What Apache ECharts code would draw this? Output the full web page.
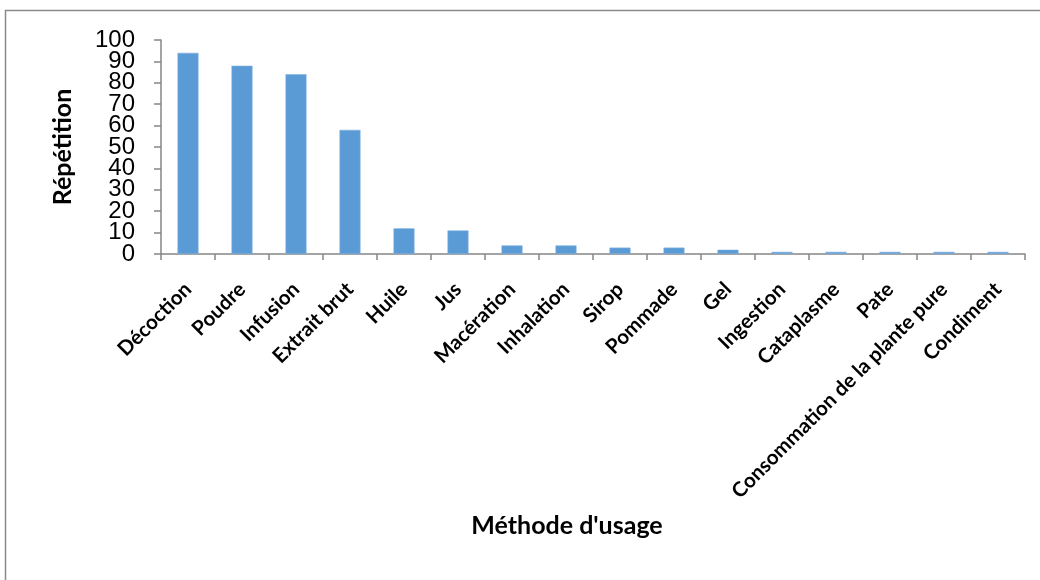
<!DOCTYPE html>
<html>
<head>
<meta charset="utf-8">
<script src="https://cdn.jsdelivr.net/npm/echarts@6/dist/echarts.min.js"></script>
<style>
  html, body { margin: 0; padding: 0; background: #fff; }
  #chart { width: 1040px; height: 580px; }
</style>
</head>
<body>
<div id="chart"></div>
<script>
// Usage methods and how often each was cited
const categories = [
  'Décoction', 'Poudre', 'Infusion', 'Extrait brut', 'Huile', 'Jus',
  'Macération', 'Inhalation', 'Sirop', 'Pommade', 'Gel', 'Ingestion',
  'Cataplasme', 'Pate', 'Consommation de la plante pure', 'Condiment'
];
const repetitions = [94, 88, 84, 58, 12, 11, 4, 4, 3, 3, 2, 1, 1, 1, 1, 1];
const yTicks = [0, 10, 20, 30, 40, 50, 60, 70, 80, 90, 100];

const labelFont = 'Lato, "Open Sans", sans-serif';
const tickFont = '"Liberation Sans", Arial, sans-serif';

// The tick labels are tightly packed, so they are split over two stacked
// value axes (even / odd steps) to keep every one of them visible.
function tickLabel(parity) {
  return function (v) {
    const idx = yTicks.indexOf(v);
    return idx >= 0 && idx % 2 === parity ? String(v) : '';
  };
}

const yBase = {
  type: 'value',
  min: yTicks[0],
  max: yTicks[yTicks.length - 1],
  interval: yTicks[1] - yTicks[0],
  position: 'left',
  splitLine: { show: false }
};

const chart = echarts.init(document.getElementById('chart'));
chart.setOption({
  animation: false,
  backgroundColor: '#ffffff',
  grid: { left: 161, right: 15, top: 40, bottom: 326, containLabel: false },
  graphic: [
    {
      type: 'rect',
      shape: { x: 5.5, y: 10.5, width: 1100, height: 640 },
      style: { fill: 'none', stroke: '#8a8a8a', lineWidth: 1.5 },
      silent: true
    },
    {
      type: 'text',
      x: 567, y: 526,
      style: {
        text: "Méthode d'usage",
        font: 'bold 25px ' + labelFont,
        fill: '#000',
        textAlign: 'center',
        textVerticalAlign: 'middle'
      }
    }
  ],
  xAxis: {
    type: 'category',
    data: categories,
    axisLine: { lineStyle: { color: '#868686', width: 1.5 } },
    axisTick: { show: true, alignWithLabel: false, length: 6, lineStyle: { color: '#868686', width: 1.5 } },
    axisLabel: {
      interval: 0,
      rotate: 45,
      margin: 32,
      color: '#000',
      fontFamily: labelFont,
      fontWeight: 'bold',
      fontSize: 20.5
    }
  },
  yAxis: [
    Object.assign({}, yBase, {
      name: 'Répétition',
      nameLocation: 'middle',
      nameGap: 86,
      nameTextStyle: {
        color: '#000',
        fontFamily: labelFont,
        fontWeight: 'bold',
        fontSize: 25
      },
      axisLine: { show: true, lineStyle: { color: '#868686', width: 1.5 } },
      axisTick: { show: true, length: 7, lineStyle: { color: '#868686', width: 1.5 } },
      axisLabel: {
        showMinLabel: true,
        showMaxLabel: true,
        hideOverlap: false,
        color: '#000',
        fontFamily: tickFont,
        fontSize: 24,
        margin: 26,
        formatter: tickLabel(0)
      }
    }),
    Object.assign({}, yBase, {
      offset: 0,
      axisLine: { show: false },
      axisTick: { show: false },
      axisLabel: {
        showMinLabel: true,
        showMaxLabel: true,
        hideOverlap: false,
        color: '#000',
        fontFamily: tickFont,
        fontSize: 24,
        margin: 26,
        formatter: tickLabel(1)
      }
    })
  ],
  series: [{
    type: 'bar',
    yAxisIndex: 0,
    data: repetitions,
    barWidth: 21,
    itemStyle: { color: '#5b9bd5', borderColor: '#7fb2e0', borderWidth: 0.6 }
  }]
});
</script>
</body>
</html>
